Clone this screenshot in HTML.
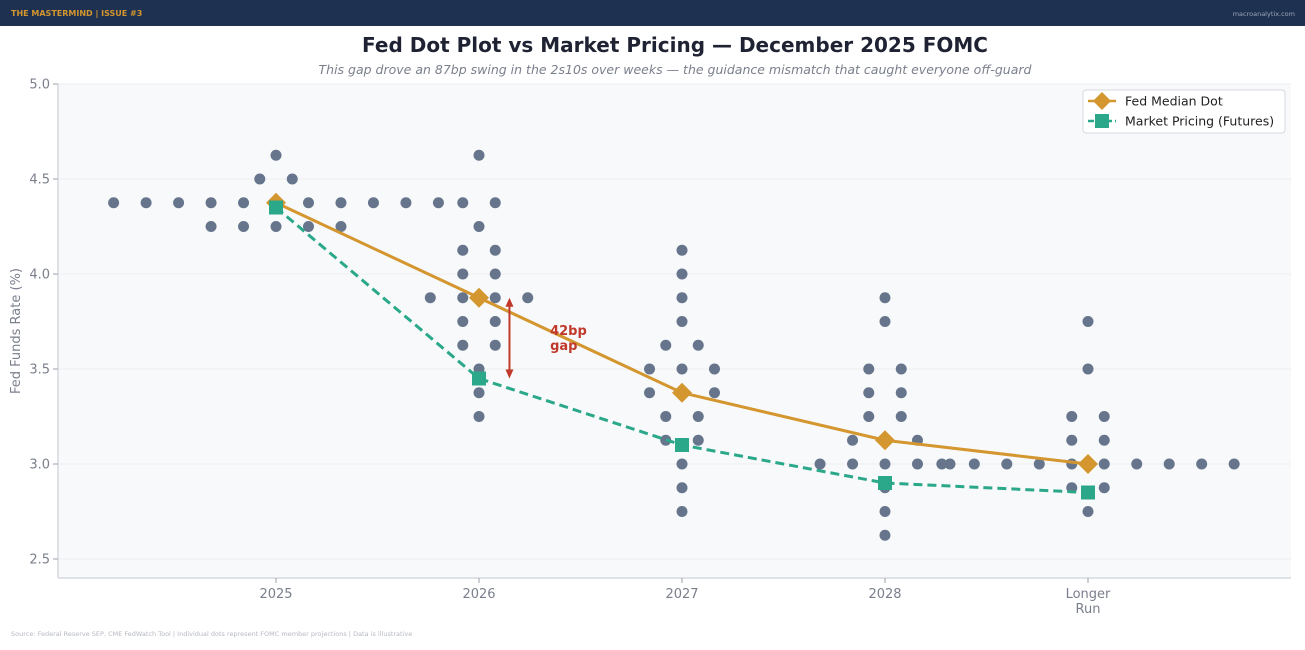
<!DOCTYPE html>
<html><head><meta charset="utf-8">
<style>
body{margin:0;width:1305px;height:650px;overflow:hidden;background:#fff;font-family:"DejaVu Sans","Liberation Sans",sans-serif;}
svg{display:block}
</style></head>
<body>
<svg id="chart" width="1305" height="650" xmlns="http://www.w3.org/2000/svg">
<rect x="0" y="0" width="1305" height="26" fill="#1e3150"/>
<text x="11" y="16" font-size="8" font-weight="bold" fill="#d4962e">THE MASTERMIND  |  ISSUE #3</text>
<text x="1295" y="16" font-size="6.5" fill="#9aa5b8" text-anchor="end">macroanalytix.com</text>
<text x="675" y="52" font-size="20" font-weight="bold" fill="#1f2233" text-anchor="middle">Fed Dot Plot vs Market Pricing — December 2025 FOMC</text>
<text x="675" y="74" font-size="12.5" font-style="italic" fill="#7a7f8c" text-anchor="middle">This gap drove an 87bp swing in the 2s10s over weeks — the guidance mismatch that caught everyone off-guard</text>
<rect x="58" y="84" width="1233" height="494" fill="#f8f9fb"/>
<g id="grid"></g>
<line x1="58" y1="84" x2="58" y2="578" stroke="#d6d9de" stroke-width="1.5"/>
<line x1="58" y1="578" x2="1291" y2="578" stroke="#d6d9de" stroke-width="1.5"/>
<g id="ticks"></g>
<text transform="translate(20,331) rotate(-90)" font-size="13" fill="#7a7f8c" text-anchor="middle">Fed Funds Rate (%)</text>
<g id="dots"></g>
<g id="lines"></g>
<g id="annot"></g>
<g>
<rect x="1083" y="90" width="202" height="43" rx="3" fill="#fff" stroke="#d6d9de"/>
<g>
<line x1="1088" y1="101" x2="1116" y2="101" stroke="#d4962e" stroke-width="2.5"/>
<polygon points="1102,92 1111,101 1102,110 1093,101" fill="#d4962e"/>
<text x="1125" y="105.5" font-size="12.5" fill="#222">Fed Median Dot</text>
</g>
<g>
<line x1="1088" y1="121" x2="1116" y2="121" stroke="#2aa889" stroke-width="2.5" stroke-dasharray="6,3"/>
<rect x="1095" y="114" width="14" height="14" fill="#2aa889"/>
<text x="1125" y="125.5" font-size="12.5" fill="#222">Market Pricing (Futures)</text>
</g>
</g>
<text x="11" y="636" font-size="6.5" fill="#b5b9c2">Source: Federal Reserve SEP, CME FedWatch Tool  |  Individual dots represent FOMC member projections  |  Data is illustrative</text>
</svg>
<script>
const categories = ["2025","2026","2027","2028","Longer Run"];
const yTicks = [2.5,3.0,3.5,4.0,4.5,5.0];
const fedMedian = [4.375,3.875,3.375,3.125,3.0];
const marketPricing = [4.35,3.45,3.10,2.90,2.85];
// dots: [category index, rate, horizontal slot offset]
const dots2025 = [[0,4.625,0],[0,4.5,-0.5],[0,4.5,0.5],
 [0,4.375,-5],[0,4.375,-4],[0,4.375,-3],[0,4.375,-2],[0,4.375,-1],[0,4.375,0],[0,4.375,1],[0,4.375,2],[0,4.375,3],[0,4.375,4],[0,4.375,5],
 [0,4.25,-2],[0,4.25,-1],[0,4.25,0],[0,4.25,1],[0,4.25,2]];
const dots2026 = [[1,4.625,0],[1,4.375,-0.5],[1,4.375,0.5],[1,4.25,0],[1,4.125,-0.5],[1,4.125,0.5],[1,4.0,-0.5],[1,4.0,0.5],
 [1,3.875,-1.5],[1,3.875,-0.5],[1,3.875,0.5],[1,3.875,1.5],[1,3.75,-0.5],[1,3.75,0.5],[1,3.625,-0.5],[1,3.625,0.5],
 [1,3.5,0],[1,3.375,0],[1,3.25,0]];
const dots2027 = [[2,4.125,0],[2,4.0,0],[2,3.875,0],[2,3.75,0],[2,3.625,-0.5],[2,3.625,0.5],[2,3.5,-1],[2,3.5,0],[2,3.5,1],
 [2,3.375,-1],[2,3.375,1],[2,3.25,-0.5],[2,3.25,0.5],[2,3.125,-0.5],[2,3.125,0.5],[2,3.0,0],[2,2.875,0],[2,2.75,0]];
const dots2028 = [[3,3.875,0],[3,3.75,0],[3,3.5,-0.5],[3,3.5,0.5],[3,3.375,-0.5],[3,3.375,0.5],[3,3.25,-0.5],[3,3.25,0.5],
 [3,3.125,-1],[3,3.125,1],[3,3.0,-2],[3,3.0,-1],[3,3.0,0],[3,3.0,1],[3,3.0,2],[3,2.875,0],[3,2.75,0],[3,2.625,0]];
const dotsLR = [[4,3.75,0],[4,3.5,0],[4,3.25,-0.5],[4,3.25,0.5],[4,3.125,-0.5],[4,3.125,0.5],
 [4,3.0,-4.5],[4,3.0,-3.5],[4,3.0,-2.5],[4,3.0,-1.5],[4,3.0,-0.5],[4,3.0,0.5],[4,3.0,1.5],[4,3.0,2.5],[4,3.0,3.5],[4,3.0,4.5],
 [4,2.875,-0.5],[4,2.875,0.5],[4,2.75,0]];
const gapLabel = ["42bp","gap"];

const NS="http://www.w3.org/2000/svg";
const X0=58,X1=1291,Y0=84,Y1=578,xmin=-1.074,xmax=5.0,ymin=2.4,ymax=5.0,slot=0.16;
function xs(v){return X0+(v-xmin)/(xmax-xmin)*(X1-X0);}
function ys(v){return Y1-(v-ymin)/(ymax-ymin)*(Y1-Y0);}
function mk(tag,attrs,parent){const e=document.createElementNS(NS,tag);for(const k in attrs)e.setAttribute(k,attrs[k]);parent.appendChild(e);return e;}
const grid=document.getElementById('grid'),ticks=document.getElementById('ticks');
yTicks.forEach(t=>{
 const g=mk('line',{x1:X0,x2:X1,y1:ys(t),y2:ys(t),stroke:'#eceef2','stroke-width':1},grid);
 
 
 mk('line',{x1:X0-5,x2:X0,y1:ys(t),y2:ys(t),stroke:'#9aa0aa'},ticks);
 const tx=mk('text',{x:X0-8,y:ys(t)+4.5,'font-size':13,fill:'#7a7f8c','text-anchor':'end'},ticks);
 tx.textContent=t.toFixed(1);
 
 
});
categories.forEach((c,i)=>{
 mk('line',{x1:xs(i),x2:xs(i),y1:Y1,y2:Y1+5,stroke:'#9aa0aa'},ticks);
 const parts=c==="Longer Run"?["Longer","Run"]:[c];
 parts.forEach((p,j)=>{
  const tx=mk('text',{x:xs(i),y:Y1+20+j*15,'font-size':13,fill:'#7a7f8c','text-anchor':'middle'},ticks);
  tx.textContent=p;
  
  
 });
});
const dg=document.getElementById('dots');
[].concat(dots2025,dots2026,dots2027,dots2028,dotsLR).forEach(d=>{
 const c=mk('circle',{cx:xs(d[0]+d[2]*slot),cy:ys(d[1]),r:5.5,fill:'#66758b'},dg);
 
 
});
const lg=document.getElementById('lines');
const mp=mk('polyline',{points:marketPricing.map((v,i)=>xs(i)+','+ys(v)).join(' '),fill:'none',stroke:'#2aa889','stroke-width':3,'stroke-dasharray':'9,5'},lg);


const fm=mk('polyline',{points:fedMedian.map((v,i)=>xs(i)+','+ys(v)).join(' '),fill:'none',stroke:'#d4962e','stroke-width':3},lg);


fedMedian.forEach((v,i)=>{
 const x=xs(i),y=ys(v);
 const p=mk('polygon',{points:`${x},${y-10} ${x+10},${y} ${x},${y+10} ${x-10},${y}`,fill:'#d4962e'},lg);
 
 
});
marketPricing.forEach((v,i)=>{
 const x=xs(i),y=ys(v);
 const r=mk('rect',{x:x-7,y:y-7,width:14,height:14,fill:'#2aa889'},lg);
 
 
});
const ag=document.getElementById('annot');
const ax=xs(1.15),ya=ys(fedMedian[1]),yb=ys(marketPricing[1]);
const al=mk('line',{x1:ax,x2:ax,y1:ya+6,y2:yb-6,stroke:'#c0392b','stroke-width':2},ag);


mk('polygon',{points:`${ax},${ya} ${ax-4},${ya+9} ${ax+4},${ya+9}`,fill:'#c0392b'},ag);
mk('polygon',{points:`${ax},${yb} ${ax-4},${yb-9} ${ax+4},${yb-9}`,fill:'#c0392b'},ag);
gapLabel.forEach((t,j)=>{
 const tx=mk('text',{x:xs(1.35),y:(ya+yb)/2-3+j*15,'font-size':13,'font-weight':'bold',fill:'#c0392b'},ag);
 tx.textContent=t;
 
 
});
</script>
</body></html>
